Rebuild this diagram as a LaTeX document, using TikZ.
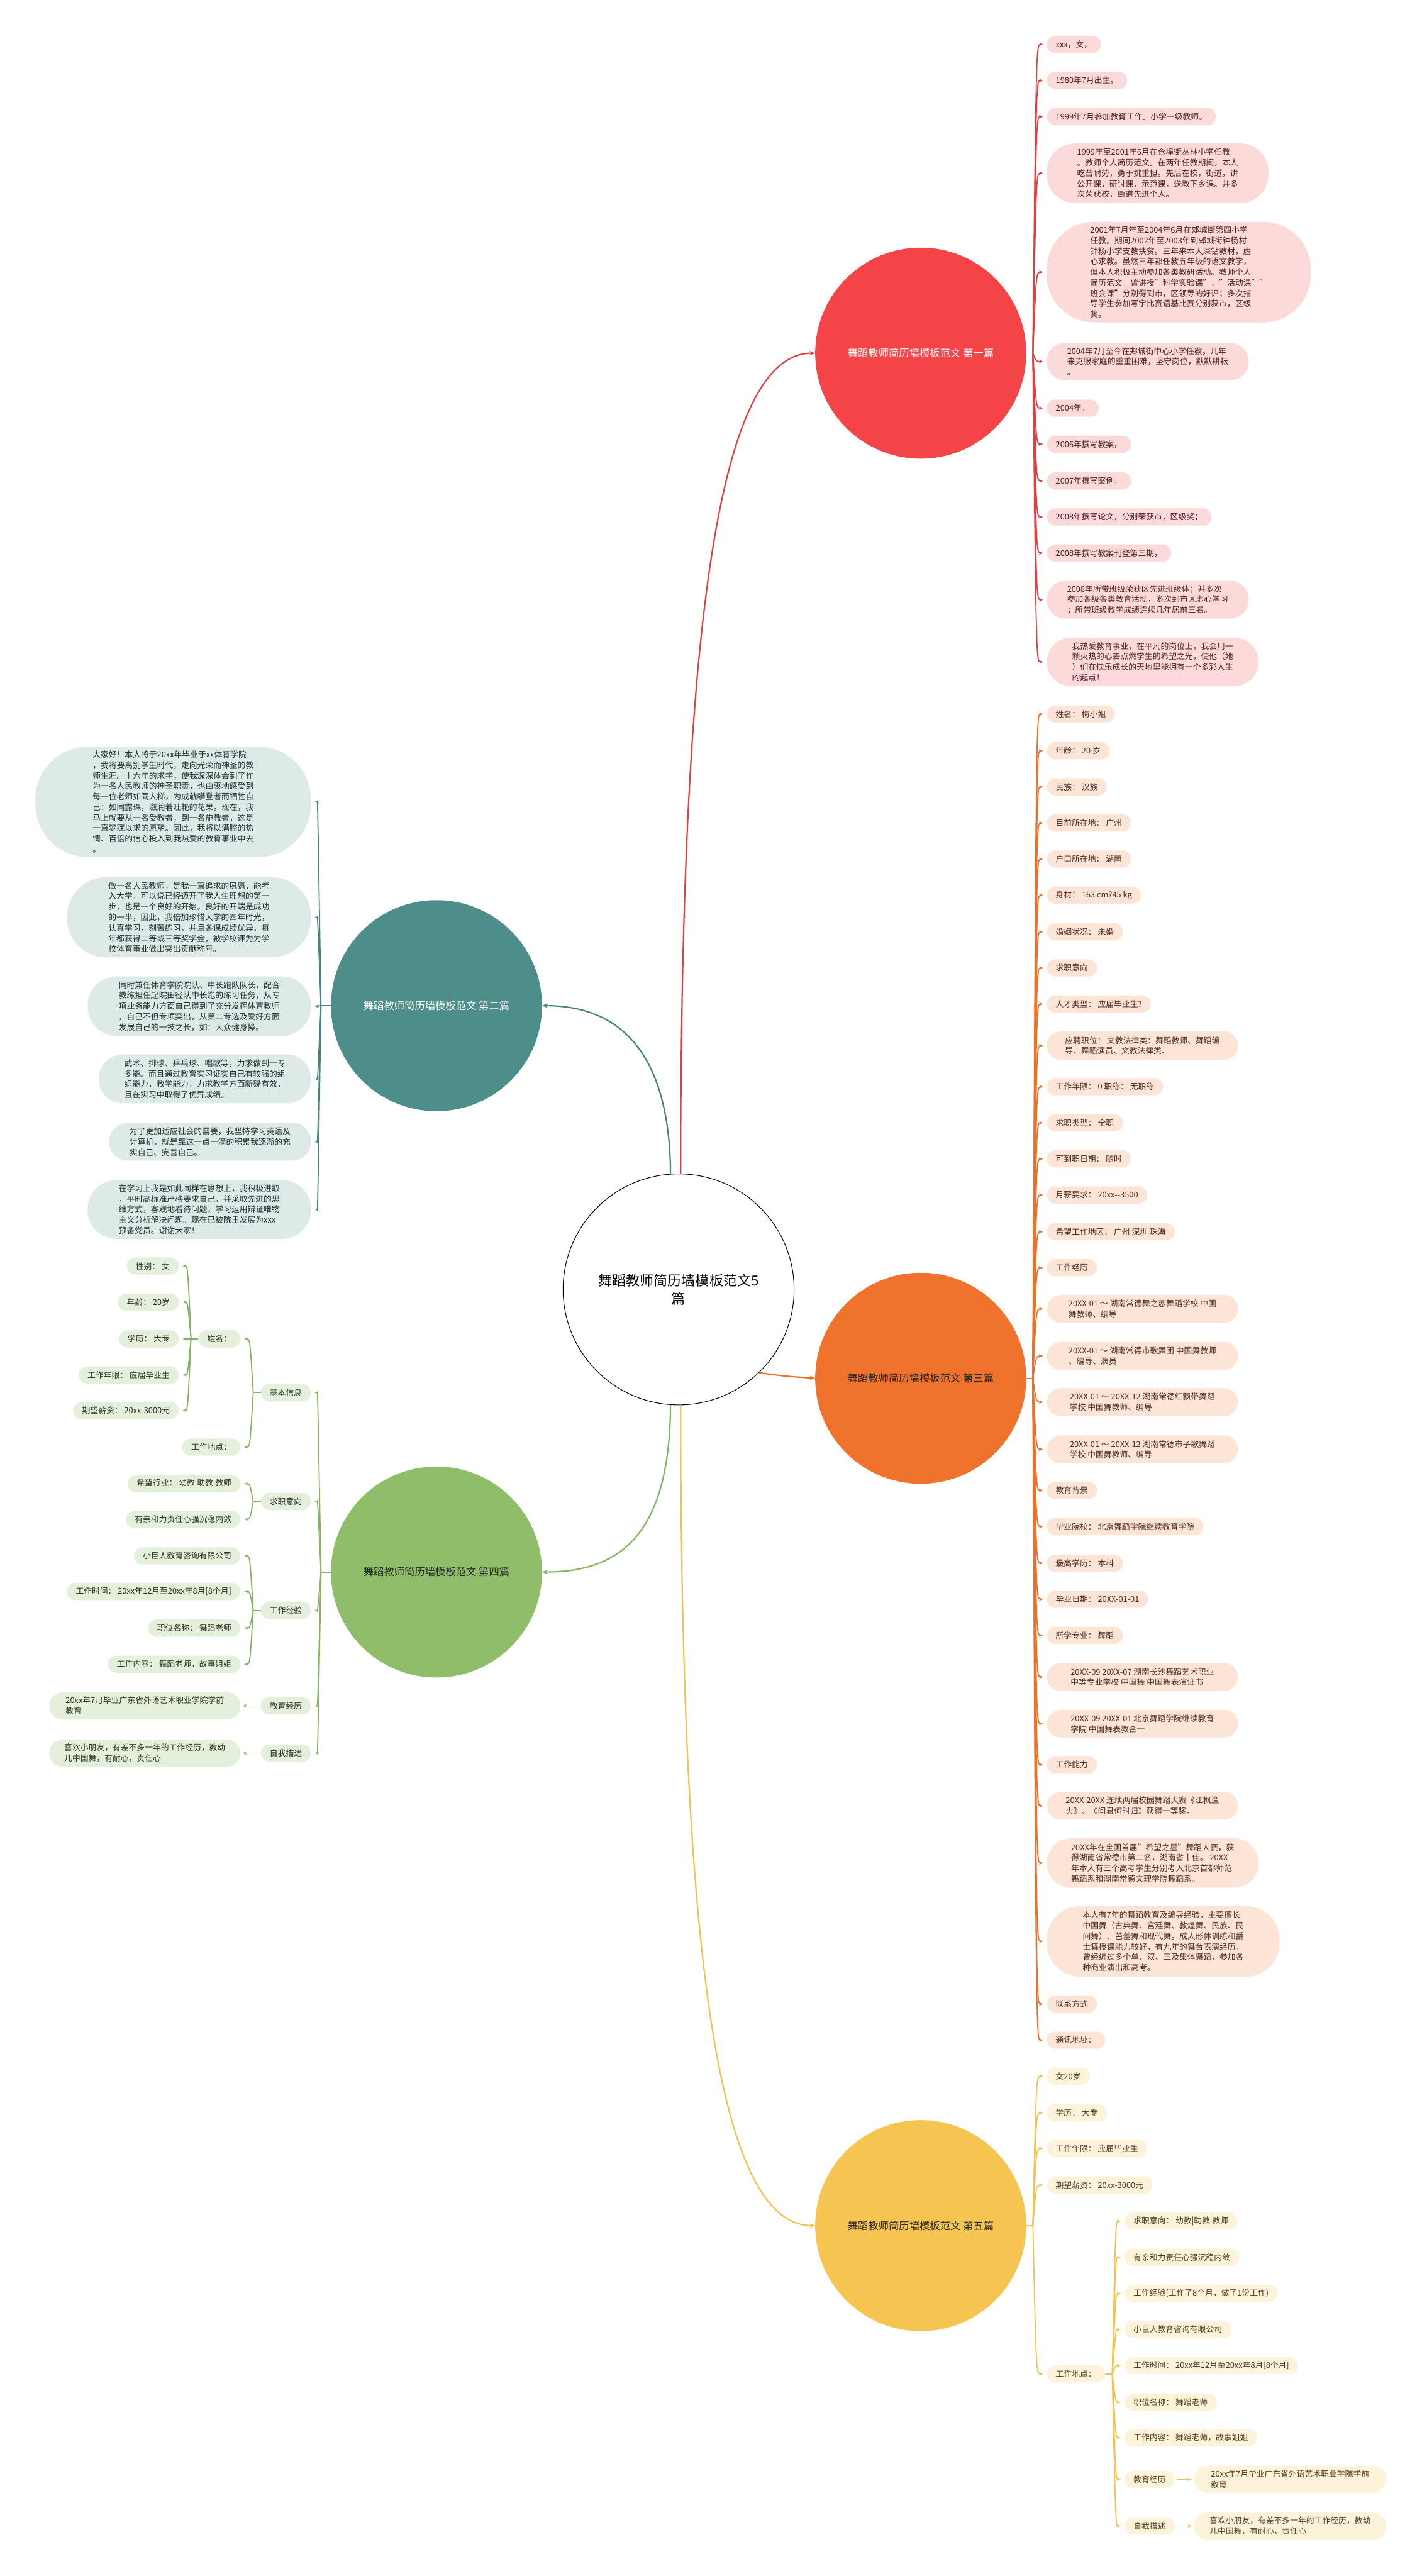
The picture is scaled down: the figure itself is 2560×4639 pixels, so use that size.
\documentclass[tikz,border=0pt]{standalone}
\usepackage{fontspec}
\setmainfont{Noto Sans CJK SC}
\usetikzlibrary{arrows.meta,calc}
\definecolor{bR}{HTML}{F54447}
\definecolor{bT}{HTML}{4E8E8A}
\definecolor{bO}{HTML}{F0732D}
\definecolor{bG}{HTML}{8FBD6A}
\definecolor{bY}{HTML}{F6C451}
\definecolor{cR}{HTML}{E43C40}
\definecolor{cT}{HTML}{47847F}
\definecolor{cO}{HTML}{EE7028}
\definecolor{cG}{HTML}{84B460}
\definecolor{cY}{HTML}{F2C250}
\definecolor{fR}{HTML}{FDDADA}
\definecolor{fT}{HTML}{DDEAE8}
\definecolor{fO}{HTML}{FCE4D6}
\definecolor{fG}{HTML}{E5F0DC}
\definecolor{fY}{HTML}{FDF2DA}
\definecolor{tR}{HTML}{4A1E1E}
\definecolor{tT}{HTML}{1F2D2C}
\definecolor{tO}{HTML}{4A2A1A}
\definecolor{tG}{HTML}{26301E}
\definecolor{tY}{HTML}{4A3A1A}
\tikzset{
 leafbase/.style={rounded corners=15pt, minimum height=31pt, inner xsep=16pt, inner ysep=3pt, align=left, font=\fontsize{14.5}{19}\selectfont},
 LR/.style={leafbase, fill=fR, text=tR},
 LO/.style={leafbase, fill=fO, text=tO},
 LY/.style={leafbase, fill=fY, text=tY},
 LT/.style={leafbase, fill=fT, text=tT},
 LG/.style={leafbase, fill=fG, text=tG},
 tipstyle/.style={-{Stealth[length=7pt,width=6pt]}, shorten >=7pt},
 LRcon/.style={draw=cR, line width=2pt, tipstyle},
 LOcon/.style={draw=cO, line width=2pt, tipstyle},
 LYcon/.style={draw=cY, line width=2pt, tipstyle},
 LTcon/.style={draw=cT, line width=2pt, tipstyle},
 LGcon/.style={draw=cG, line width=2pt, tipstyle},
 branch/.style={circle, minimum size=380pt, inner sep=0pt, font=\fontsize{18.5}{22}\selectfont},
 mainlink/.style={line width=2.5pt, -{Stealth[length=10pt,width=8pt]}},
}
% #1 name, #2 style, #3 anchor, #4 position, #5 options, #6 text, #7 junction, #8 control
\newcommand\Leaf[8]{%
  \node[#2,anchor=#3,#5] (#1) at (#4) {#6};
  \draw[#2con] (#7) .. controls (#8 |- #1.#3) .. (#1.#3);
}
\begin{document}
\begin{tikzpicture}[x=1pt,y=-1pt]
\useasboundingbox[fill=white] (0,0) rectangle (2560,4639);

% ---------- centre and branch nodes ----------
\node[circle, draw=black, line width=1.2pt, minimum size=416pt, fill=white, align=center, font=\fontsize{25}{33}\selectfont] (C) at (1222,2322) {舞蹈教师简历墙模板范文5\\篇};
\node[branch, fill=bR, text=white] (R) at (1658,636) {舞蹈教师简历墙模板范文 第一篇};
\node[branch, fill=bT, text=white] (T) at (786,1811) {舞蹈教师简历墙模板范文 第二篇};
\node[branch, fill=bO, text=black!85] (O) at (1658,2482) {舞蹈教师简历墙模板范文 第三篇};
\node[branch, fill=bG, text=black!85] (G) at (786,2831) {舞蹈教师简历墙模板范文 第四篇};
\node[branch, fill=bY, text=black!85] (Y) at (1658,4008) {舞蹈教师简历墙模板范文 第五篇};

\draw[mainlink, draw=cR] (C.89) .. controls (1226,1150) and (1290,636) .. (R.west);
\draw[mainlink, draw=cT] (C.94) .. controls (1206,1900) and (1120,1811) .. (T.east);
\draw[mainlink, draw=cO] (C.-46) .. controls (1410,2478) .. (O.west);
\draw[mainlink, draw=cG] (C.-94) .. controls (1206,2760) and (1120,2831) .. (G.east);
\draw[mainlink, draw=cY] (C.-89) .. controls (1226,3500) and (1290,4008) .. (Y.west);

% ---------- junctions ----------
\coordinate (Jr) at (1860,636);  \coordinate (Cr) at (1866,636);
\coordinate (Jo) at (1860,2482); \coordinate (Co) at (1866,2482);
\coordinate (Jy) at (1860,4008); \coordinate (Cy) at (1866,4008);
\coordinate (Jt) at (578,1811);  \coordinate (Ct) at (572,1811);
\coordinate (Jg) at (578,2831);  \coordinate (Cg) at (572,2831);
\draw[draw=cR, line width=2pt] (R.east) -- (Jr);
\draw[draw=cO, line width=2pt] (O.east) -- (Jo);
\draw[draw=cY, line width=2pt] (Y.east) -- (Jy);
\draw[draw=cT, line width=2pt] (T.west) -- (Jt);
\draw[draw=cG, line width=2pt] (G.west) -- (Jg);

% ---------- branch 1 (red) ----------
\Leaf{r1}{LR}{west}{1885,80}{}{xxx，女，}{Jr}{Cr}
\Leaf{r2}{LR}{west}{1885,145}{}{1980年7月出生。}{Jr}{Cr}
\Leaf{r3}{LR}{west}{1885,210}{}{1999年7月参加教育工作。小学一级教师。}{Jr}{Cr}
\Leaf{r4}{LR}{west}{1885,312}{minimum width=399pt, minimum height=107pt, rounded corners=50pt}{1999年至2001年6月在仓埠街丛林小学任教\\。教师个人简历范文。在两年任教期间，本人\\吃苦耐劳，勇于挑重担。先后在校，街道，讲\\公开课，研讨课，示范课，送教下乡课。并多\\次荣获校，街道先进个人。}{Jr}{Cr}
\Leaf{r5}{LR}{west}{1885,490}{minimum width=475pt, minimum height=181pt, rounded corners=85pt}{2001年7月年至2004年6月在郏城街第四小学\\任教。期间2002年至2003年到郏城街钟杨村\\钟杨小学支教扶贫。三年来本人深钻教材，虚\\心求教。虽然三年都任教五年级的语文教学，\\但本人积极主动参加各类教研活动。教师个人\\简历范文。曾讲授"科学实验课"，"活动课""\\班会课"分别得到市，区领导的好评；多次指\\导学生参加写字比赛语基比赛分别获市，区级\\奖。}{Jr}{Cr}
\Leaf{r6}{LR}{west}{1885,651}{minimum width=363pt, minimum height=68pt, rounded corners=33pt}{2004年7月至今在郏城街中心小学任教。几年\\来克服家庭的重重困难，坚守岗位，默默耕耘\\。}{Jr}{Cr}
\Leaf{r7}{LR}{west}{1885,735}{}{2004年，}{Jr}{Cr}
\Leaf{r8}{LR}{west}{1885,800}{}{2006年撰写教案，}{Jr}{Cr}
\Leaf{r9}{LR}{west}{1885,866}{}{2007年撰写案例，}{Jr}{Cr}
\Leaf{r10}{LR}{west}{1885,931}{}{2008年撰写论文，分别荣获市，区级奖；}{Jr}{Cr}
\Leaf{r11}{LR}{west}{1885,996}{}{2008年撰写教案刊登第三期，}{Jr}{Cr}
\Leaf{r12}{LR}{west}{1885,1080}{minimum width=363pt, minimum height=68pt, rounded corners=33pt}{2008年所带班级荣获区先进班级体；并多次\\参加各级各类教育活动，多次到市区虚心学习\\；所带班级教学成绩连续几年居前三名。}{Jr}{Cr}
\Leaf{r13}{LR}{west}{1885,1192}{minimum width=381pt, minimum height=87pt, rounded corners=43pt}{我热爱教育事业，在平凡的岗位上，我会用一\\颗火热的心去点燃学生的希望之光，使他（她\\）们在快乐成长的天地里能拥有一个多彩人生\\的起点！}{Jr}{Cr}

% ---------- branch 3 (orange) ----------
\Leaf{o1}{LO}{west}{1885,1286}{}{姓名： 梅小姐}{Jo}{Co}
\Leaf{o2}{LO}{west}{1885,1352}{}{年龄： 20 岁}{Jo}{Co}
\Leaf{o3}{LO}{west}{1885,1417}{}{民族： 汉族}{Jo}{Co}
\Leaf{o4}{LO}{west}{1885,1482}{}{目前所在地： 广州}{Jo}{Co}
\Leaf{o5}{LO}{west}{1885,1547}{}{户口所在地： 湖南}{Jo}{Co}
\Leaf{o6}{LO}{west}{1885,1612}{}{身材： 163 cm?45 kg}{Jo}{Co}
\Leaf{o7}{LO}{west}{1885,1678}{}{婚姻状况： 未婚}{Jo}{Co}
\Leaf{o8}{LO}{west}{1885,1743}{}{求职意向}{Jo}{Co}
\Leaf{o9}{LO}{west}{1885,1808}{}{人才类型： 应届毕业生?}{Jo}{Co}
\Leaf{o10}{LO}{west}{1885,1883}{minimum width=344pt, minimum height=51pt, rounded corners=25pt}{应聘职位： 文教法律类：舞蹈教师、舞蹈编\\导、舞蹈演员、文教法律类、}{Jo}{Co}
\Leaf{o11}{LO}{west}{1885,1957}{}{工作年限： 0 职称： 无职称}{Jo}{Co}
\Leaf{o12}{LO}{west}{1885,2022}{}{求职类型： 全职}{Jo}{Co}
\Leaf{o13}{LO}{west}{1885,2087}{}{可到职日期： 随时}{Jo}{Co}
\Leaf{o14}{LO}{west}{1885,2152}{}{月薪要求： 20xx-{}-3500}{Jo}{Co}
\Leaf{o15}{LO}{west}{1885,2218}{}{希望工作地区： 广州 深圳 珠海}{Jo}{Co}
\Leaf{o16}{LO}{west}{1885,2283}{}{工作经历}{Jo}{Co}
\Leaf{o17}{LO}{west}{1885,2357}{minimum width=344pt, minimum height=50pt, rounded corners=25pt}{20XX-01 ～ 湖南常德舞之恋舞蹈学校 中国\\舞教师、编导}{Jo}{Co}
\Leaf{o18}{LO}{west}{1885,2442}{minimum width=344pt, minimum height=50pt, rounded corners=25pt}{20XX-01 ～ 湖南常德市歌舞团 中国舞教师\\、编导、演员}{Jo}{Co}
\Leaf{o19}{LO}{west}{1885,2525}{minimum width=344pt, minimum height=50pt, rounded corners=25pt}{20XX-01 ～ 20XX-12 湖南常德红飘带舞蹈\\学校 中国舞教师、编导}{Jo}{Co}
\Leaf{o20}{LO}{west}{1885,2610}{minimum width=344pt, minimum height=50pt, rounded corners=25pt}{20XX-01 ～ 20XX-12 湖南常德市子歌舞蹈\\学校 中国舞教师、编导}{Jo}{Co}
\Leaf{o21}{LO}{west}{1885,2684}{}{教育背景}{Jo}{Co}
\Leaf{o22}{LO}{west}{1885,2749}{}{毕业院校： 北京舞蹈学院继续教育学院}{Jo}{Co}
\Leaf{o23}{LO}{west}{1885,2815}{}{最高学历： 本科}{Jo}{Co}
\Leaf{o24}{LO}{west}{1885,2880}{}{毕业日期： 20XX-01-01}{Jo}{Co}
\Leaf{o25}{LO}{west}{1885,2945}{}{所学专业： 舞蹈}{Jo}{Co}
\Leaf{o26}{LO}{west}{1885,3020}{minimum width=344pt, minimum height=50pt, rounded corners=25pt}{20XX-09 20XX-07 湖南长沙舞蹈艺术职业\\中等专业学校 中国舞 中国舞表演证书}{Jo}{Co}
\Leaf{o27}{LO}{west}{1885,3104}{minimum width=344pt, minimum height=50pt, rounded corners=25pt}{20XX-09 20XX-01 北京舞蹈学院继续教育\\学院 中国舞表教合一}{Jo}{Co}
\Leaf{o28}{LO}{west}{1885,3178}{}{工作能力}{Jo}{Co}
\Leaf{o29}{LO}{west}{1885,3252}{minimum width=344pt, minimum height=50pt, rounded corners=25pt}{20XX-20XX 连续两届校园舞蹈大赛《江枫渔\\火》、《问君何时归》获得一等奖。}{Jo}{Co}
\Leaf{o30}{LO}{west}{1885,3355}{minimum width=381pt, minimum height=89pt, rounded corners=44pt}{20XX年在全国首届"希望之星"舞蹈大赛，获\\得湖南省常德市第二名，湖南省十佳。 20XX\\年本人有三个高考学生分别考入北京首都师范\\舞蹈系和湖南常德文理学院舞蹈系。}{Jo}{Co}
\Leaf{o31}{LO}{west}{1885,3496}{minimum width=419pt, minimum height=127pt, rounded corners=60pt}{本人有7年的舞蹈教育及编导经验，主要擅长\\中国舞（古典舞、宫廷舞、敦煌舞、民族、民\\间舞）、芭蕾舞和现代舞。成人形体训练和爵\\士舞授课能力较好，有九年的舞台表演经历，\\曾经编过多个单、双、三及集体舞蹈，参加各\\种商业演出和高考。}{Jo}{Co}
\Leaf{o32}{LO}{west}{1885,3609}{}{联系方式}{Jo}{Co}
\Leaf{o33}{LO}{west}{1885,3674}{}{通讯地址：}{Jo}{Co}

% ---------- branch 5 (yellow) ----------
\Leaf{y1}{LY}{west}{1885,3739}{}{女20岁}{Jy}{Cy}
\Leaf{y2}{LY}{west}{1885,3805}{}{学历： 大专}{Jy}{Cy}
\Leaf{y3}{LY}{west}{1885,3869}{}{工作年限： 应届毕业生}{Jy}{Cy}
\Leaf{y4}{LY}{west}{1885,3935}{}{期望薪资： 20xx-3000元}{Jy}{Cy}
\Leaf{y5}{LY}{west}{1885,4275}{}{工作地点：}{Jy}{Cy}
\coordinate (Jy5) at (2003,4275); \coordinate (Cy5) at (2009,4275);
\draw[draw=cY, line width=2pt] (y5.east) -- (Jy5);
\Leaf{y5a}{LY}{west}{2025,4000}{}{求职意向： 幼教|助教|教师}{Jy5}{Cy5}
\Leaf{y5b}{LY}{west}{2025,4065}{}{有亲和力责任心强沉稳内敛}{Jy5}{Cy5}
\Leaf{y5c}{LY}{west}{2025,4130}{}{工作经验(工作了8个月，做了1份工作)}{Jy5}{Cy5}
\Leaf{y5d}{LY}{west}{2025,4195}{}{小巨人教育咨询有限公司}{Jy5}{Cy5}
\Leaf{y5e}{LY}{west}{2025,4260}{}{工作时间： 20xx年12月至20xx年8月[8个月]}{Jy5}{Cy5}
\Leaf{y5f}{LY}{west}{2025,4326}{}{职位名称： 舞蹈老师}{Jy5}{Cy5}
\Leaf{y5g}{LY}{west}{2025,4390}{}{工作内容： 舞蹈老师，故事姐姐}{Jy5}{Cy5}
\Leaf{y5h}{LY}{west}{2025,4465}{}{教育经历}{Jy5}{Cy5}
\Leaf{y5i}{LY}{west}{2025,4549}{}{自我描述}{Jy5}{Cy5}
\node[LY, anchor=west, minimum width=346pt, minimum height=49pt, rounded corners=24pt] (y5hc) at (2150,4465) {20xx年7月毕业广东省外语艺术职业学院学前\\教育};
\node[LY, anchor=west, minimum width=346pt, minimum height=49pt, rounded corners=24pt] (y5ic) at (2150,4549) {喜欢小朋友，有差不多一年的工作经历，教幼\\儿中国舞，有耐心，责任心};
\draw[LYcon, shorten <=4pt, shorten >=4pt] (y5h.east) -- (y5hc.west);
\draw[LYcon, shorten <=4pt, shorten >=4pt] (y5i.east) -- (y5ic.west);

% ---------- branch 2 (teal) ----------
\Leaf{t1}{LT}{east}{560,1444}{minimum width=496pt, minimum height=199pt, rounded corners=95pt}{大家好！本人将于20xx年毕业于xx体育学院\\，我将要离别学生时代，走向光荣而神圣的教\\师生涯。十六年的求学，使我深深体会到了作\\为一名人民教师的神圣职责，也由衷地感受到\\每一位老师如同人梯，为成就攀登者而牺牲自\\己：如同露珠，滋润着吐艳的花果。现在，我\\马上就要从一名受教者，到一名施教者，这是\\一直梦寐以求的愿望。因此，我将以满腔的热\\情、百倍的信心投入到我热爱的教育事业中去\\。}{Jt}{Ct}
\Leaf{t2}{LT}{east}{560,1652}{minimum width=439pt, minimum height=144pt, rounded corners=70pt}{做一名人民教师，是我一直追求的夙愿，能考\\入大学，可以说已经迈开了我人生理想的第一\\步，也是一个良好的开始。良好的开端是成功\\的一半，因此，我倍加珍惜大学的四年时光，\\认真学习，刻苦练习，并且各课成绩优异，每\\年都获得二等或三等奖学金，被学校评为为学\\校体育事业做出突出贡献称号。}{Jt}{Ct}
\Leaf{t3}{LT}{east}{560,1812}{minimum width=402pt, minimum height=107pt, rounded corners=52pt}{同时兼任体育学院院队、中长跑队队长，配合\\教练担任起院田径队中长跑的练习任务，从专\\项业务能力方面自己得到了充分发挥体育教师\\，自己不但专项突出，从第二专选及爱好方面\\发展自己的一技之长，如：大众健身操。}{Jt}{Ct}
\Leaf{t4}{LT}{east}{560,1943}{minimum width=382pt, minimum height=88pt, rounded corners=43pt}{武术、排球、乒乓球、唱歌等，力求做到一专\\多能。而且通过教育实习证实自己有较强的组\\织能力，教学能力，力求教学方面新疑有效，\\且在实习中取得了优异成绩。}{Jt}{Ct}
\Leaf{t5}{LT}{east}{560,2056}{minimum width=363pt, minimum height=68pt, rounded corners=33pt}{为了更加适应社会的需要，我坚持学习英语及\\计算机，就是靠这一点一滴的积累我逐渐的充\\实自己、完善自己。}{Jt}{Ct}
\Leaf{t6}{LT}{east}{560,2178}{minimum width=402pt, minimum height=106pt, rounded corners=52pt}{在学习上我是如此同样在思想上，我积极进取\\，平时高标准严格要求自己，并采取先进的思\\维方式，客观地看待问题，学习运用辩证唯物\\主义分析解决问题。现在已被院里发展为xxx\\预备党员。谢谢大家！}{Jt}{Ct}

% ---------- branch 4 (green) ----------
\Leaf{g1}{LG}{east}{560,2508}{}{基本信息}{Jg}{Cg}
\Leaf{g2}{LG}{east}{560,2704}{}{求职意向}{Jg}{Cg}
\Leaf{g3}{LG}{east}{560,2900}{}{工作经验}{Jg}{Cg}
\Leaf{g4}{LG}{east}{560,3072}{}{教育经历}{Jg}{Cg}
\Leaf{g5}{LG}{east}{560,3157}{}{自我描述}{Jg}{Cg}
\coordinate (Jg1) at (456,2508); \coordinate (Cg1) at (450,2508);
\coordinate (Jg2) at (456,2704); \coordinate (Cg2) at (450,2704);
\coordinate (Jg3) at (456,2900); \coordinate (Cg3) at (450,2900);
\draw[draw=cG, line width=2pt] (g1.west) -- (Jg1);
\draw[draw=cG, line width=2pt] (g2.west) -- (Jg2);
\draw[draw=cG, line width=2pt] (g3.west) -- (Jg3);
\Leaf{g1a}{LG}{east}{433,2411}{}{姓名：}{Jg1}{Cg1}
\Leaf{g1b}{LG}{east}{433,2606}{}{工作地点：}{Jg1}{Cg1}
\coordinate (Jg1a) at (344,2411); \coordinate (Cg1a) at (338,2411);
\draw[draw=cG, line width=2pt] (g1a.west) -- (Jg1a);
\Leaf{g1a1}{LG}{east}{322,2280}{}{性别： 女}{Jg1a}{Cg1a}
\Leaf{g1a2}{LG}{east}{322,2345}{}{年龄： 20岁}{Jg1a}{Cg1a}
\Leaf{g1a3}{LG}{east}{322,2411}{}{学历： 大专}{Jg1a}{Cg1a}
\Leaf{g1a4}{LG}{east}{322,2476}{}{工作年限： 应届毕业生}{Jg1a}{Cg1a}
\Leaf{g1a5}{LG}{east}{322,2540}{}{期望薪资： 20xx-3000元}{Jg1a}{Cg1a}
\Leaf{g2a}{LG}{east}{433,2672}{}{希望行业： 幼教|助教|教师}{Jg2}{Cg2}
\Leaf{g2b}{LG}{east}{433,2736}{}{有亲和力责任心强沉稳内敛}{Jg2}{Cg2}
\Leaf{g3a}{LG}{east}{433,2802}{}{小巨人教育咨询有限公司}{Jg3}{Cg3}
\Leaf{g3b}{LG}{east}{433,2866}{}{工作时间： 20xx年12月至20xx年8月[8个月]}{Jg3}{Cg3}
\Leaf{g3c}{LG}{east}{433,2932}{}{职位名称： 舞蹈老师}{Jg3}{Cg3}
\Leaf{g3d}{LG}{east}{433,2997}{}{工作内容： 舞蹈老师，故事姐姐}{Jg3}{Cg3}
\node[LG, anchor=east, minimum width=344pt, minimum height=49pt, rounded corners=24pt] (g4c) at (433,3072) {20xx年7月毕业广东省外语艺术职业学院学前\\教育};
\node[LG, anchor=east, minimum width=344pt, minimum height=49pt, rounded corners=24pt] (g5c) at (433,3157) {喜欢小朋友，有差不多一年的工作经历，教幼\\儿中国舞，有耐心，责任心};
\draw[LGcon, shorten <=4pt, shorten >=4pt] (g4.west) -- (g4c.east);
\draw[LGcon, shorten <=4pt, shorten >=4pt] (g5.west) -- (g5c.east);
\end{tikzpicture}
\end{document}
